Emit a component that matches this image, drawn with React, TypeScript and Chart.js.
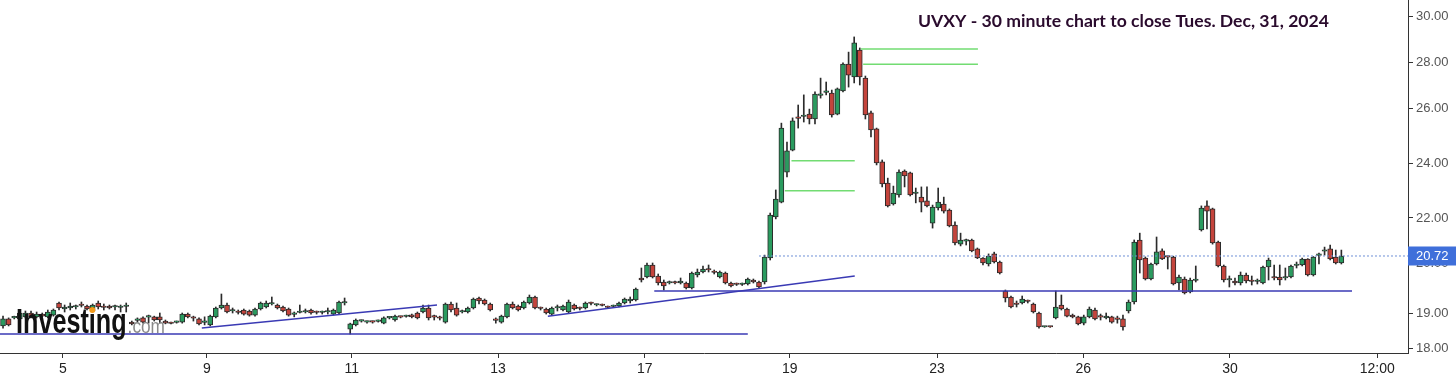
import React, { useEffect, useRef } from 'react';
import { Chart, LinearScale, registerables } from 'chart.js';

// ---------- data ----------
const TITLE = 'UVXY - 30 minute chart to close Tues. Dec, 31, 2024';
const X_TICK_LABELS = ['5', '9', '11', '13', '17', '19', '23', '26', '30', '12:00'];
const X_TICK_POS = [10.7, 36.4, 62.3, 88.4, 114.6, 140.5, 166.8, 192.9, 219.1, 245.4];
const Y_TICKS = [18, 19, 20, 22, 24, 26, 28, 30];
const LAST_PRICE = 20.72;

const OPEN = [
  18.63, 18.83, 18.86, 18.83, 18.89, 19.0, 18.89, 18.97, 18.89, 18.94,
  19.2, 19.08, 19.1, 19.12, 19.16, 19.14, 19.04, 19.2, 19.12, 19.14,
  19.12, 19.11, 19.13, 18.74, 18.79, 18.86, 18.88, 18.89, 18.89, 18.77,
  18.71, 18.73, 18.74, 18.97, 18.86, 18.83, 18.73, 18.66, 18.89, 19.1,
  19.16, 19.04, 19.02, 19.06, 19.04, 18.94, 19.08, 19.12, 19.18, 19.16,
  19.12, 19.08, 18.96, 19.01, 19.02, 19.06, 19.02, 19.01, 19.02, 18.97,
  19.0, 19.2, 18.54, 18.66, 18.77, 18.74, 18.75, 18.76, 18.71, 18.86,
  18.8, 18.89, 18.9, 18.95, 19.0, 19.02, 19.1, 18.89, 18.86, 18.74,
  19.18, 19.1, 19.02, 19.02, 19.1, 19.3, 19.26, 19.18, 18.8, 18.74,
  18.89, 19.18, 19.14, 19.1, 19.2, 19.32, 19.1, 19.08, 18.97, 19.1,
  19.06, 19.02, 19.16, 19.1, 19.1, 19.2, 19.16, 19.16, 19.12, 19.13,
  19.14, 19.2, 19.24, 19.26, 19.7, 19.72, 19.96, 19.74, 19.62, 19.6,
  19.61, 19.6, 19.6, 19.5, 19.76, 19.82, 19.88, 19.82, 19.72, 19.8,
  19.6, 19.58, 19.57, 19.58, 19.66, 19.62, 19.62, 20.51, 22.04, 22.58,
  23.67, 24.47, 25.64, 25.69, 25.78, 25.6, 26.55, 26.68, 26.65, 25.78,
  26.74, 27.91, 27.35, 28.52, 27.3, 25.82, 25.24, 24.04, 23.27, 22.51,
  22.84, 23.71, 23.64, 22.89, 22.76, 22.62, 21.83, 22.37, 22.51, 22.29,
  21.76, 21.12, 21.22, 21.26, 20.96, 20.51, 19.98, 20.79, 20.1, 19.44,
  19.32, 19.18, 19.2, 19.24, 19.18, 19.0, 18.6, 18.61, 18.86, 19.16,
  19.08, 18.94, 18.89, 18.71, 18.89, 19.06, 18.89, 18.86, 18.89, 18.83,
  18.83, 19.04, 19.22, 21.26, 20.51, 19.68, 19.98, 20.89, 20.62, 20.62,
  19.6, 19.68, 19.42, 19.65, 21.6, 22.44, 22.33, 21.19, 19.94, 19.66,
  19.64, 19.6, 19.76, 19.64, 19.63, 19.6, 19.92, 19.72, 19.72, 19.7,
  19.72, 19.95, 19.96, 20.41, 19.76, 20.74, 20.88, 20.96, 20.62, 20.0,
];
const HIGH = [
  18.91, 18.86, 18.91, 19.04, 19.04, 19.04, 19.02, 19.0, 19.06, 19.08,
  19.22, 19.16, 19.2, 19.16, 19.22, 19.16, 19.18, 19.24, 19.18, 19.16,
  19.16, 19.16, 19.2, 18.77, 18.86, 18.89, 18.94, 18.91, 19.0, 18.8,
  18.74, 18.77, 19.0, 19.0, 18.91, 18.86, 18.89, 18.94, 19.12, 19.38,
  19.2, 19.1, 19.06, 19.08, 19.06, 19.1, 19.22, 19.24, 19.32, 19.18,
  19.14, 19.1, 19.02, 19.16, 19.08, 19.08, 19.04, 19.04, 19.1, 19.08,
  19.24, 19.3, 18.71, 18.83, 18.8, 18.77, 18.77, 18.8, 18.89, 18.89,
  18.94, 18.91, 18.94, 18.97, 19.02, 19.16, 19.16, 18.94, 18.91, 19.2,
  19.22, 19.2, 19.06, 19.12, 19.3, 19.32, 19.28, 19.2, 18.86, 18.94,
  19.2, 19.22, 19.16, 19.24, 19.36, 19.34, 19.12, 19.1, 19.12, 19.16,
  19.16, 19.26, 19.18, 19.12, 19.22, 19.22, 19.18, 19.18, 19.14, 19.16,
  19.22, 19.3, 19.32, 19.5, 19.9, 20.0, 20.0, 19.78, 19.66, 19.64,
  19.64, 19.7, 19.62, 19.82, 19.88, 19.94, 19.96, 19.86, 19.84, 19.82,
  19.62, 19.6, 19.6, 19.7, 19.68, 19.64, 20.75, 22.18, 23.02, 25.45,
  24.76, 25.64, 26.13, 26.57, 25.96, 26.7, 27.3, 27.13, 26.78, 26.87,
  27.96, 28.43, 29.09, 28.61, 27.39, 25.89, 25.27, 24.11, 23.45, 23.16,
  23.75, 23.75, 23.67, 23.09, 23.13, 23.13, 22.47, 23.09, 22.76, 22.33,
  21.87, 21.49, 21.29, 21.29, 20.99, 20.55, 20.79, 20.85, 20.2, 19.46,
  19.34, 19.24, 19.34, 19.26, 19.2, 19.02, 18.62, 18.62, 19.44, 19.36,
  19.1, 18.97, 18.91, 18.94, 19.12, 19.1, 18.97, 19.0, 18.91, 18.91,
  18.94, 19.26, 21.26, 21.49, 20.62, 20.0, 21.36, 20.96, 20.72, 20.7,
  19.76, 19.72, 19.7, 19.94, 22.44, 22.62, 22.36, 21.22, 19.96, 19.74,
  19.7, 19.82, 19.8, 19.74, 19.68, 19.94, 20.51, 19.96, 19.96, 19.9,
  19.96, 20.1, 20.51, 20.45, 20.66, 20.82, 21.02, 21.09, 20.92, 20.92,
];
const LOW = [
  18.57, 18.63, 18.83, 18.8, 18.86, 18.86, 18.86, 18.89, 18.86, 18.91,
  19.06, 19.02, 19.06, 19.08, 19.12, 19.06, 19.02, 19.08, 19.06, 19.08,
  19.06, 19.02, 19.02, 18.66, 18.74, 18.71, 18.71, 18.77, 18.71, 18.69,
  18.69, 18.71, 18.71, 18.86, 18.77, 18.66, 18.66, 18.63, 18.86, 19.08,
  19.0, 19.0, 18.97, 18.94, 18.91, 18.91, 19.06, 19.1, 19.16, 19.08,
  19.02, 18.91, 18.89, 19.0, 19.0, 18.97, 18.97, 18.97, 18.97, 18.94,
  18.97, 19.16, 18.4, 18.63, 18.74, 18.71, 18.71, 18.74, 18.69, 18.83,
  18.77, 18.86, 18.88, 18.86, 18.83, 19.0, 18.8, 18.8, 18.8, 18.71,
  19.02, 18.91, 19.0, 19.0, 19.08, 19.18, 19.16, 19.04, 18.71, 18.71,
  18.86, 19.08, 19.04, 19.08, 19.18, 19.08, 19.06, 18.97, 18.94, 19.04,
  19.04, 19.0, 19.06, 19.06, 19.08, 19.16, 19.14, 19.14, 19.1, 19.12,
  19.12, 19.18, 19.2, 19.24, 19.62, 19.7, 19.7, 19.56, 19.46, 19.58,
  19.58, 19.58, 19.48, 19.48, 19.72, 19.8, 19.82, 19.78, 19.7, 19.58,
  19.52, 19.55, 19.55, 19.56, 19.6, 19.5, 19.58, 20.31, 21.97, 22.55,
  23.49, 24.44, 25.27, 25.49, 25.42, 25.42, 26.43, 26.57, 25.67, 25.75,
  26.7, 26.91, 27.09, 27.0, 25.6, 24.95, 23.93, 23.13, 22.4, 22.47,
  22.76, 23.13, 22.8, 22.55, 22.22, 22.4, 21.66, 22.29, 22.18, 21.7,
  21.09, 21.06, 21.09, 20.86, 20.45, 19.96, 19.94, 20.0, 19.78, 19.22,
  19.1, 19.12, 19.18, 19.2, 19.0, 18.57, 18.59, 18.59, 18.83, 19.06,
  18.89, 18.86, 18.66, 18.66, 18.86, 18.8, 18.8, 18.83, 18.71, 18.71,
  18.51, 19.0, 19.18, 19.8, 19.66, 19.66, 19.96, 20.35, 19.88, 19.56,
  19.46, 19.38, 19.4, 19.62, 21.56, 21.63, 21.12, 19.92, 19.62, 19.52,
  19.56, 19.56, 19.6, 19.56, 19.58, 19.58, 19.66, 19.66, 19.56, 19.66,
  19.7, 19.9, 19.94, 19.74, 19.74, 19.98, 20.75, 20.31, 19.98, 19.98,
];
const CLOSE = [
  18.83, 18.66, 18.88, 19.0, 19.0, 18.89, 18.97, 18.91, 19.02, 19.06,
  19.1, 19.12, 19.14, 19.13, 19.15, 19.08, 19.16, 19.12, 19.11, 19.1,
  19.12, 19.12, 19.14, 18.69, 18.8, 18.74, 18.89, 18.8, 18.8, 18.71,
  18.7, 18.74, 18.97, 18.89, 18.85, 18.69, 18.74, 18.91, 19.1, 19.16,
  19.02, 19.05, 19.01, 18.97, 18.94, 19.08, 19.2, 19.2, 19.19, 19.1,
  19.04, 18.94, 18.97, 19.02, 19.05, 19.0, 19.01, 19.02, 19.03, 19.06,
  19.22, 19.21, 18.69, 18.8, 18.78, 18.75, 18.74, 18.77, 18.86, 18.87,
  18.91, 18.88, 18.91, 18.89, 18.86, 19.1, 18.86, 18.88, 18.85, 19.18,
  19.06, 18.94, 19.03, 19.1, 19.28, 19.24, 19.18, 19.06, 18.79, 18.91,
  19.18, 19.1, 19.06, 19.22, 19.32, 19.1, 19.09, 19.0, 19.1, 19.11,
  19.14, 19.22, 19.08, 19.09, 19.2, 19.19, 19.17, 19.15, 19.11, 19.14,
  19.2, 19.28, 19.28, 19.48, 19.66, 19.96, 19.72, 19.6, 19.54, 19.61,
  19.6, 19.64, 19.5, 19.8, 19.82, 19.88, 19.86, 19.81, 19.82, 19.6,
  19.54, 19.57, 19.58, 19.68, 19.62, 19.52, 20.61, 22.11, 22.69, 25.27,
  24.44, 25.53, 25.62, 25.71, 25.6, 26.61, 26.57, 26.7, 25.75, 26.83,
  27.91, 27.43, 28.83, 27.35, 25.75, 25.2, 24.0, 23.24, 22.44, 22.91,
  23.67, 23.53, 22.84, 22.91, 22.58, 22.44, 22.4, 22.58, 22.25, 21.73,
  21.16, 21.26, 21.23, 20.89, 20.51, 20.0, 20.72, 20.1, 19.8, 19.3,
  19.12, 19.17, 19.28, 19.23, 19.02, 18.6, 18.61, 18.6, 19.12, 19.08,
  18.91, 18.89, 18.69, 18.89, 19.08, 18.83, 18.88, 18.91, 18.74, 18.82,
  18.6, 19.22, 21.19, 20.31, 19.68, 19.98, 20.86, 20.41, 20.6, 19.58,
  19.72, 19.4, 19.66, 19.66, 22.36, 22.25, 21.16, 19.94, 19.66, 19.67,
  19.6, 19.76, 19.64, 19.63, 19.64, 19.92, 20.31, 19.7, 19.66, 19.71,
  19.94, 19.96, 20.41, 19.76, 20.62, 20.76, 20.89, 20.41, 20.0, 20.72,
];

// drawn lines: [startIndex, startPrice, endIndex, endPrice]
const BLUE_LINES = [
  [-0.6, 18.4, 133.0, 18.4],
  [35.5, 18.57, 77.5, 19.16],
  [97.3, 18.91, 152.1, 19.74],
  [116.3, 19.44, 240.9, 19.44],
];
const GREEN_LINES = [
  [153.2, 28.57, 174.1, 28.57],
  [153.6, 27.9, 174.1, 27.9],
  [140.8, 24.08, 152.1, 24.08],
  [139.6, 22.99, 152.1, 22.99],
];
const PRICE_LINE_START = 135;

// the source axis is not uniform: tick values and their share of the plot height (from bottom)
const Y_BREAK_VALUES = [17.857, 18, 19, 20, 20.72, 22, 24, 26, 28, 30, 30.696];
const Y_BREAK_FRACS = [0, 0.01416, 0.11331, 0.25496, 0.27479, 0.38244, 0.53824, 0.69405, 0.82436, 0.95467, 1];

// ---------- styles ----------
const UP = '#2a9b5f';
const DOWN = '#c4443c';
const OUTLINE = '#2b2b2b';
const BLUE = '#3a3ab4';
const GREEN = '#72dc72';
const FONT = '"Liberation Sans", Arial, sans-serif';

function interp(v: number, xs: number[], ys: number[]) {
  let k = 0;
  if (v <= xs[0]) k = 0;
  else if (v >= xs[xs.length - 1]) k = xs.length - 2;
  else {
    while (k < xs.length - 2 && v > xs[k + 1]) k++;
  }
  const t = (v - xs[k]) / (xs[k + 1] - xs[k]);
  return ys[k] + t * (ys[k + 1] - ys[k]);
}

class BrokenScale extends LinearScale {
  static id = 'broken';
  getPixelForValue(value: any) {
    if (value === null || value === undefined || isNaN(value)) return NaN;
    return this.getPixelForDecimal(interp(+value, Y_BREAK_VALUES, Y_BREAK_FRACS));
  }
  getValueForPixel(pixel: number) {
    return interp(this.getDecimalForPixel(pixel), Y_BREAK_FRACS, Y_BREAK_VALUES);
  }
}

Chart.register(...registerables, BrokenScale as any);

const overlayPlugin = {
  id: 'overlay',
  afterDraw(chart: any) {
    const { ctx } = chart;
    const yScale = chart.scales.y;
    ctx.save();

    // title
    ctx.fillStyle = '#2a0b2d';
    ctx.font = 'bold 17.6px Lato, "Open Sans", sans-serif';
    ctx.textBaseline = 'middle';
    ctx.textAlign = 'left';
    ctx.fillText(TITLE, 918, 21);

    // watermark
    ctx.textBaseline = 'alphabetic';
    ctx.font = `bold 35px ${FONT}`;
    ctx.fillStyle = '#111111';
    const sx = 0.72;
    const wAll = ctx.measureText('Investing').width;
    const wInvest = ctx.measureText('Invest').width;
    const wI = ctx.measureText('i').width;
    ctx.save();
    ctx.translate(16, 333);
    ctx.scale(sx, 1);
    ctx.fillText('Investing', 0, 0);
    ctx.restore();
    ctx.fillStyle = '#f29a1a';
    ctx.beginPath();
    ctx.arc(16 + (wInvest + wI / 2) * sx, 310, 3, 0, Math.PI * 2);
    ctx.fill();
    ctx.font = `21px ${FONT}`;
    ctx.fillStyle = '#8a8a8a';
    ctx.save();
    ctx.translate(16 + wAll * sx + 1, 333);
    ctx.scale(0.82, 1);
    ctx.fillText('.com', 0, 0);
    ctx.restore();

    // last price box
    const py = yScale.getPixelForValue(LAST_PRICE);
    ctx.fillStyle = '#3f6fda';
    ctx.fillRect(chart.chartArea.right, py - 9.5, chart.width - chart.chartArea.right, 19);
    ctx.fillStyle = '#ffffff';
    ctx.font = `13px ${FONT}`;
    ctx.textBaseline = 'middle';
    ctx.fillText(LAST_PRICE.toFixed(2), chart.chartArea.right + 8, py + 0.5);
    ctx.restore();
  },
};

function segment(s: number[], color: string, width: number, dash: number[] = []) {
  return {
    type: 'line' as const,
    data: [
      { x: s[0], y: s[1] },
      { x: s[2], y: s[3] },
    ],
    borderColor: color,
    borderWidth: width,
    borderDash: dash,
    pointRadius: 0,
    tension: 0,
    fill: false,
    order: -1,
  };
}

export default function App() {
  const ref = useRef<HTMLCanvasElement>(null);

  useEffect(() => {
    const idx = OPEN.map((_, i) => i);
    const bodies = idx.map((i) => ({ x: i, y: [OPEN[i], CLOSE[i]] }));
    const wicks = idx.map((i) => ({ x: i, y: [LOW[i], HIGH[i]] }));
    const colors = idx.map((i) => (CLOSE[i] >= OPEN[i] ? UP : DOWN));

    const datasets: any[] = [
      {
        type: 'bar',
        data: wicks,
        backgroundColor: OUTLINE,
        borderWidth: 0,
        barThickness: 1,
        grouped: false,
        order: 2,
      },
      {
        type: 'bar',
        data: bodies,
        backgroundColor: colors,
        borderColor: OUTLINE,
        borderWidth: 1,
        borderSkipped: false,
        barThickness: 5,
        minBarLength: 1.5,
        grouped: false,
        order: 1,
      },
      segment([PRICE_LINE_START, LAST_PRICE, 251, LAST_PRICE], '#6d8fd6', 1, [2, 2]),
      ...BLUE_LINES.map((s) => segment(s, BLUE, 1.5)),
      ...GREEN_LINES.map((s) => segment(s, GREEN, 1.5)),
    ];

    const chart = new Chart(ref.current as HTMLCanvasElement, {
      type: 'bar',
      data: { datasets },
      plugins: [overlayPlugin],
      options: {
        animation: false,
        responsive: false,
        events: [],
        layout: { padding: 0 },
        plugins: { legend: { display: false }, tooltip: { enabled: false } },
        scales: {
          x: {
            type: 'linear',
            min: -0.54,
            max: 250.9,
            offset: false,
            afterBuildTicks: (axis: any) => {
              axis.ticks = X_TICK_POS.map((v) => ({ value: v }));
            },
            afterFit: (axis: any) => {
              axis.height = 24;
              axis.paddingLeft = 0;
              axis.paddingRight = 0;
            },
            ticks: {
              autoSkip: false,
              maxRotation: 0,
              padding: 3,
              color: '#222',
              font: { family: FONT, size: 14 },
              callback: (_v: any, i: number) => X_TICK_LABELS[i],
            },
            grid: { display: true, drawOnChartArea: false, drawTicks: true, tickLength: 5, color: '#333', offset: false },
            border: { display: true, color: '#333', width: 1 },
          },
          y: {
            type: 'broken' as any,
            position: 'right',
            min: 17.857,
            max: 30.696,
            beginAtZero: false,
            afterBuildTicks: (axis: any) => {
              axis.ticks = Y_TICKS.map((v) => ({ value: v }));
            },
            afterFit: (axis: any) => {
              axis.width = 48;
              axis.paddingTop = 0;
              axis.paddingBottom = 0;
            },
            ticks: {
              autoSkip: false,
              padding: 3,
              color: '#555',
              font: { family: FONT, size: 13 },
              callback: (v: any) => Number(v).toFixed(2),
            },
            grid: { display: true, drawOnChartArea: false, drawTicks: true, tickLength: 5, color: '#333' },
            border: { display: true, color: '#333', width: 1 },
          },
        },
      } as any,
    });
    return () => chart.destroy();
  }, []);

  return (
    <div style={{ position: 'fixed', left: 0, top: 0, width: 1456, height: 377, background: '#ffffff' }}>
      <canvas ref={ref} width={1456} height={377} style={{ display: 'block', width: 1456, height: 377 }} />
    </div>
  );
}
